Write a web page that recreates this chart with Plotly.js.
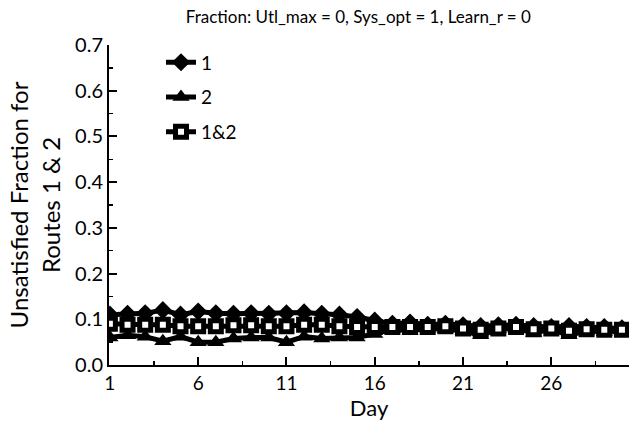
<!DOCTYPE html>
<html>
<head>
<meta charset="utf-8">
<script src="https://cdn.plot.ly/plotly-3.0.1.min.js"></script>
<style>html,body{margin:0;padding:0;background:#fff;}#chart{width:640px;height:430px;}</style>
</head>
<body>
<div id="chart"></div>
<script>
const days = [1,2,3,4,5,6,7,8,9,10,11,12,13,14,15,16,17,18,19,20,21,22,23,24,25,26,27,28,29,30];
const route1 = [0.11,0.112,0.113,0.12,0.11,0.117,0.113,0.112,0.113,0.112,0.113,0.115,0.112,0.11,0.105,0.097,0.09,0.093,0.088,0.09,0.087,0.085,0.087,0.088,0.085,0.083,0.085,0.083,0.083,0.08];
const route2 = [0.06,0.065,0.062,0.052,0.062,0.05,0.05,0.058,0.06,0.06,0.05,0.062,0.058,0.06,0.06,0.068,0.078,0.075,0.08,0.078,0.075,0.065,0.078,0.08,0.07,0.078,0.065,0.075,0.072,0.075];
const route12 = [0.09,0.088,0.088,0.088,0.085,0.085,0.085,0.087,0.087,0.085,0.085,0.088,0.088,0.085,0.083,0.083,0.083,0.083,0.083,0.085,0.08,0.077,0.08,0.083,0.078,0.08,0.075,0.078,0.077,0.077];
const seriesNames = ['1','2','1&2'];
const xTickVals = [1,6,11,16,21,26];
const yTickVals = [0,0.1,0.2,0.3,0.4,0.5,0.6,0.7];

const FONT = 'Lato, "Open Sans", sans-serif';
const traces = [
  {x: days, y: route1, name: seriesNames[0], legendgroup: 'a', mode: 'lines+markers',
   line: {color: '#000', width: 5}, marker: {symbol: 'diamond', size: 14, color: '#000'}},
  {x: days, y: route2, name: seriesNames[1], legendgroup: 'b', mode: 'lines+markers',
   line: {color: '#000', width: 5}, marker: {symbol: 'triangle-up', size: 15, color: '#000'}},
  {x: days, y: route12, name: seriesNames[2], legendgroup: 'c', mode: 'lines+markers',
   line: {color: '#000', width: 5}, marker: {symbol: 'square', size: 11, color: '#fff', line: {color: '#000', width: 5}}}
];

const layout = {
  width: 640, height: 430,
  margin: {l: 109, r: 11, t: 45, b: 65},
  paper_bgcolor: '#fff', plot_bgcolor: '#fff',
  font: {family: FONT, color: '#000'},
  title: {text: 'Fraction: Utl_max = 0, Sys_opt = 1, Learn_r = 0', font: {family: FONT, size: 17, color: '#000'},
          x: 0.56, xanchor: 'center', y: 0.96, yanchor: 'middle'},
  showlegend: true,
  legend: {x: 0.1, y: 1.005, xanchor: 'left', yanchor: 'top', bgcolor: 'rgba(0,0,0,0)',
           font: {family: FONT, size: 19, color: '#000'}, tracegroupgap: 7, traceorder: 'grouped'},
  xaxis: {
    range: [0.95, 30.4], tickvals: xTickVals, ticktext: xTickVals.map(String),
    ticks: 'inside', ticklen: 8, tickwidth: 2, tickcolor: '#000',
    showline: true, linecolor: '#000', linewidth: 2, mirror: false,
    showgrid: false, zeroline: false,
    tickfont: {family: FONT, size: 19, color: '#000'},
    minor: {dtick: 2.5, tick0: 1, ticks: 'inside', ticklen: 4, tickwidth: 1.5, tickcolor: '#000', showgrid: false},
    title: {text: 'Day', font: {family: FONT, size: 22, color: '#000'}, standoff: 4}
  },
  yaxis: {
    range: [0, 0.7], tickvals: yTickVals, tickformat: '.1f',
    ticks: 'inside', ticklen: 8, tickwidth: 2, tickcolor: '#000',
    showline: true, linecolor: '#000', linewidth: 2, mirror: false,
    showgrid: false, zeroline: false,
    tickfont: {family: FONT, size: 20, color: '#000'},
    minor: {dtick: 0.05, ticks: 'inside', ticklen: 4, tickwidth: 1.5, tickcolor: '#000', showgrid: false},
    title: {text: 'Unsatisfied Fraction for<br>Routes 1 & 2', font: {family: FONT, size: 24, color: '#000'}, standoff: 8}
  }
};

Plotly.newPlot('chart', traces, layout, {displayModeBar: false, staticPlot: true});
</script>
</body>
</html>
